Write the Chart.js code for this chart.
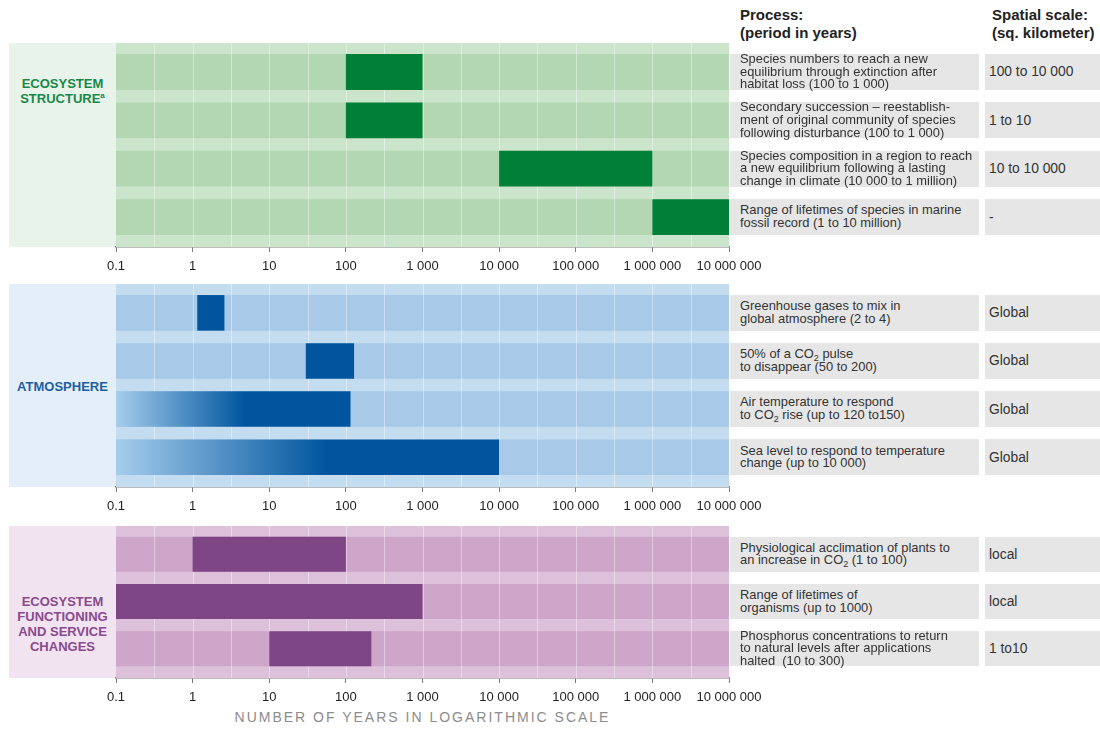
<!DOCTYPE html>
<html>
<head>
<meta charset="utf-8">
<script src="https://cdn.jsdelivr.net/npm/chart.js@4.4.1/dist/chart.umd.min.js"></script>
<style>
  body { margin: 0; background: #fff; font-family: "Liberation Sans", Arial, Helvetica, sans-serif; }
  #page { position: relative; width: 1100px; height: 731px; overflow: hidden; }
  canvas { position: absolute; left: 60px; }
  .labelCol { position: absolute; left: 9px; width: 107px; }
  .labelCol div { position: absolute; left: 0; right: 0; text-align: center; font-weight: bold; font-size: 13px; line-height: 15px; }
  .head { position: absolute; top: 6px; font-weight: bold; font-size: 15px; line-height: 18px; color: #222; }
  .box { position: absolute; background: #e6e6e6; display: flex; align-items: center; color: #333; box-sizing: border-box; white-space: nowrap; }
  .proc { font-size: 12.9px; line-height: 12.6px; padding-left: 10px; }
  .scale { font-size: 13.8px; padding-left: 4px; }
  sub { font-size: 9px; line-height: 0; vertical-align: -3px; }
  sup { font-size: 8px; line-height: 0; }
  #axisTitle { position: absolute; left: 116px; width: 613px; top: 709px; text-align: center; font-size: 14px; letter-spacing: 2px; color: #8c8c8c; }
</style>
</head>
<body>
<div id="page">
  <div class="labelCol" style="top:43px;height:204px;background:#e8f3e9;color:#17884a;">
    <div style="top:33px;">ECOSYSTEM<br>STRUCTURE<sup>a</sup></div>
  </div>
  <div class="labelCol" style="top:284px;height:203px;background:#e4eef8;color:#1b5fa2;">
    <div style="top:95px;">ATMOSPHERE</div>
  </div>
  <div class="labelCol" style="top:526px;height:152px;background:#f1e3ef;color:#8a4a8e;">
    <div style="top:68px;">ECOSYSTEM<br>FUNCTIONING<br>AND SERVICE<br>CHANGES</div>
  </div>

  <canvas id="structureChart" width="740" height="234" style="top:43px;"></canvas>
  <canvas id="atmoChart" width="740" height="233" style="top:284px;"></canvas>
  <canvas id="functionChart" width="740" height="182" style="top:526px;"></canvas>

  <div class="head" style="left:740px;">Process:<br>(period in years)</div>
  <div class="head" style="left:992px;">Spatial scale:<br>(sq. kilometer)</div>
  <div id="axisTitle">NUMBER OF YEARS IN LOGARITHMIC SCALE</div>
</div>

<script>
// axis
const tickValues = [0.1, 1, 10, 100, 1000, 10000, 100000, 1000000, 10000000];
const tickLabels = ['0.1', '1', '10', '100', '1 000', '10 000', '100 000', '1 000 000', '10 000 000'];

// ecosystem structure
const structureProcesses = [
    'Species numbers to reach a new<br>equilibrium through extinction after<br>habitat loss (100 to 1 000)',
    'Secondary succession \u2013 reestablish-<br>ment of original community of species<br>following disturbance (100 to 1 000)',
    'Species composition in a region to reach<br>a new equilibrium following a lasting<br>change in climate (10 000 to 1 million)',
    'Range of lifetimes of species in marine<br>fossil record (1 to 10 million)'
];
const structureScales = ['100 to 10 000', '1 to 10', '10 to 10 000', '-'];
const structureStart = [100, 100, 10000, 1000000];
const structureEnd = [1000, 1000, 1000000, 10000000];

// atmosphere
const atmoProcesses = [
    'Greenhouse gases to mix in<br>global atmosphere (2 to 4)',
    '50% of a CO<sub>2</sub> pulse<br>to disappear (50 to 200)',
    'Air temperature to respond<br>to CO<sub>2</sub> rise (up to 120 to150)',
    'Sea level to respond to temperature<br>change (up to 10 000)'
];
const atmoScales = ['Global', 'Global', 'Global', 'Global'];
const atmoStart = [1.15, 30, 0.1, 0.1];
const atmoEnd = [2.6, 128, 115, 10000];
const atmoUpTo = [false, false, true, true];

// ecosystem functioning and service changes
const functionProcesses = [
    'Physiological acclimation of plants to<br>an increase in CO<sub>2</sub> (1 to 100)',
    'Range of lifetimes of<br>organisms (up to 1000)',
    'Phosphorus concentrations to return<br>to natural levels after applications<br>halted&nbsp; (10 to 300)'
];
const functionScales = ['local', 'local', '1 to10'];
const functionStart = [1, 0.1, 10];
const functionEnd = [100, 1000, 215];

// background of the plot area plus the white half-decade lines over the bands
const panelBack = {
    id: 'panelBack',
    beforeDatasetsDraw(chart, args, opts) {
        const a = chart.chartArea;
        const ctx = chart.ctx;
        ctx.save();
        ctx.fillStyle = opts.gap;
        ctx.fillRect(a.left, a.top, a.right - a.left, a.bottom - a.top);
        ctx.restore();
    },
    afterDatasetDraw(chart, args) {
        if (args.index !== 1) return;
        const a = chart.chartArea;
        const ctx = chart.ctx;
        const x = chart.scales.x;
        ctx.save();
        ctx.strokeStyle = 'rgba(255, 255, 255, 0.4)';
        ctx.lineWidth = 1;
        for (let i = 0; i < tickValues.length - 1; i++) {
            const vals = [Math.sqrt(tickValues[i] * tickValues[i + 1])];
            if (i > 0) vals.push(tickValues[i]);
            vals.forEach(v => {
                const px = Math.round(x.getPixelForValue(v)) + 0.5;
                ctx.beginPath();
                ctx.moveTo(px, a.top);
                ctx.lineTo(px, a.bottom);
                ctx.stroke();
            });
        }
        ctx.restore();
    }
};

function makePanel(id, starts, ends, colors, upTo) {
    const ctx = document.getElementById(id).getContext('2d');
    const n = starts.length;
    return new Chart(ctx, {
        type: 'bar',
        data: {
            datasets: [{
                data: ends.map((e, i) => ({ x: [starts[i], e], y: i })),
                backgroundColor: function(c) {
                    const i = c.dataIndex;
                    const chart = c.chart;
                    if (!upTo || !upTo[i] || !chart.chartArea || !chart.scales.x) return colors.bar;
                    const x0 = chart.scales.x.getPixelForValue(starts[i]);
                    const x1 = chart.scales.x.getPixelForValue(ends[i]);
                    const g = chart.ctx.createLinearGradient(x0, 0, x0 + (x1 - x0) * 0.55, 0);
                    g.addColorStop(0, colors.fade);
                    g.addColorStop(1, colors.bar);
                    return g;
                },
                order: 1,
                grouped: false,
                barPercentage: 0.74,
                categoryPercentage: 1
            }, {
                data: starts.map((s, i) => ({ x: [tickValues[0], tickValues[tickValues.length - 1]], y: i })),
                backgroundColor: colors.band,
                order: 2,
                grouped: false,
                barPercentage: 0.74,
                categoryPercentage: 1
            }]
        },
        options: {
            indexAxis: 'y',
            responsive: false,
            animation: false,
            layout: { padding: { left: 56, right: 71, top: 0, bottom: 0 } },
            plugins: {
                legend: { display: false },
                tooltip: { enabled: false },
                panelBack: { gap: colors.gap }
            },
            scales: {
                y: {
                    type: 'linear',
                    reverse: true,
                    offset: false,
                    min: -0.6,
                    max: n - 1 + 0.62,
                    display: false,
                    // one tick per row so the bar thickness follows the row spacing
                    afterBuildTicks: function(scale) {
                        scale.ticks = starts.map((s, i) => ({ value: i }));
                    }
                },
                x: {
                    type: 'logarithmic',
                    min: tickValues[0],
                    max: tickValues[tickValues.length - 1],
                    afterBuildTicks: function(scale) {
                        scale.ticks = tickValues.map(v => ({ value: v }));
                    },
                    afterFit: function(scale) {
                        scale.height = 30;
                    },
                    grid: {
                        drawOnChartArea: false,
                        drawTicks: true,
                        tickLength: 5,
                        color: '#7a7a7a'
                    },
                    border: { display: true, color: '#7a7a7a', width: 1.5 },
                    ticks: {
                        autoSkip: false,
                        maxRotation: 0,
                        padding: 7,
                        color: '#222',
                        font: { family: '"Liberation Sans", Arial, sans-serif', size: 13 },
                        callback: function(value, index) {
                            return tickLabels[index];
                        }
                    }
                }
            }
        },
        plugins: [panelBack]
    });
}

function placeRows(chart, canvasTop, processes, scales) {
    const page = document.getElementById('page');
    chart.getDatasetMeta(1).data.forEach((bar, i) => {
        const top = canvasTop + bar.y - bar.height / 2;
        const p = document.createElement('div');
        p.className = 'box proc';
        p.style.cssText = `left:730px;width:249px;top:${top}px;height:${bar.height}px;`;
        p.innerHTML = '<span>' + processes[i] + '</span>';
        page.appendChild(p);

        const s = document.createElement('div');
        s.className = 'box scale';
        s.style.cssText = `left:985px;width:115px;top:${top}px;height:${bar.height}px;`;
        s.textContent = scales[i];
        page.appendChild(s);
    });
}

const structureChart = makePanel('structureChart', structureStart, structureEnd,
    { bar: '#007f38', band: '#b3d7b3', gap: '#cbe4cc' }, null);
const atmoChart = makePanel('atmoChart', atmoStart, atmoEnd,
    { bar: '#00559e', band: '#a8cae8', gap: '#c4dcf0', fade: '#a6cdec' }, atmoUpTo);
const functionChart = makePanel('functionChart', functionStart, functionEnd,
    { bar: '#7e4685', band: '#cea6ca', gap: '#ddc1da' }, null);

placeRows(structureChart, 43, structureProcesses, structureScales);
placeRows(atmoChart, 284, atmoProcesses, atmoScales);
placeRows(functionChart, 526, functionProcesses, functionScales);
</script>
</body>
</html>
